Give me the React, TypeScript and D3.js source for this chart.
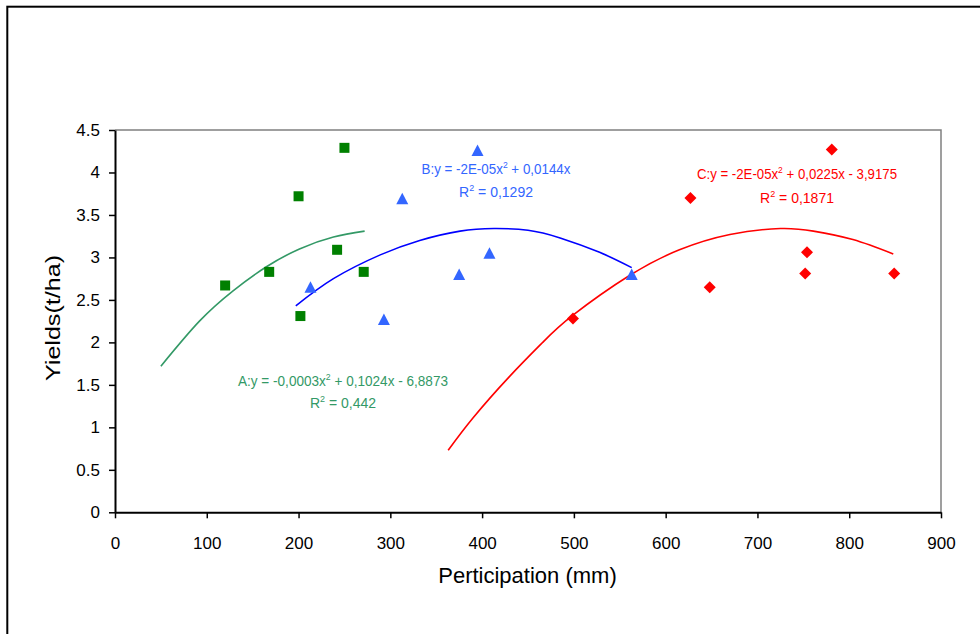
import React, { useEffect, useRef } from "react";
import * as d3 from "d3";

type Pt = [number, number];

// observations (participation mm, yield t/ha)
const seriesA: Pt[] = [[120, 2.67], [168, 2.83], [200, 3.72], [202, 2.31], [242, 3.09], [250, 4.29], [271, 2.83]];
const seriesB: Pt[] = [[213, 2.65], [293, 2.27], [313, 3.69], [395, 4.26], [375, 2.8], [408, 3.05], [563, 2.8]];
const seriesC: Pt[] = [[499, 2.28], [627, 3.7], [648, 2.65], [752, 2.81], [754, 3.06], [781, 4.27], [849, 2.81]];

// polynomial trend lines
const trendA: Pt[] = [[50, 1.72], [92, 2.25], [129, 2.61], [165, 2.89], [201, 3.1], [238, 3.24], [272, 3.31]];
const trendB: Pt[] = [[197, 2.43], [238, 2.75], [289, 3.03], [332, 3.2], [376, 3.31], [413, 3.34], [450, 3.32], [485, 3.23], [528, 3.06], [563, 2.88]];
const trendC: Pt[] = [[363, 0.73], [390, 1.11], [430, 1.6], [466, 2.0], [499, 2.32], [561, 2.79], [615, 3.09], [670, 3.27], [725, 3.34], [761, 3.31], [804, 3.21], [848, 3.04]];

const xTicks = [0, 100, 200, 300, 400, 500, 600, 700, 800, 900];
const yTicks = [0, 0.5, 1, 1.5, 2, 2.5, 3, 3.5, 4, 4.5];

const equations = [
  { name: "A", eq: ["A:y = -0,0003x", " + 0,1024x - 6,8873"], r2: "0,442", color: "#339966", at: [343, 385.5, 408], w: 210 },
  { name: "B", eq: ["B:y = -2E-05x", " + 0,0144x"], r2: "0,1292", color: "#3366ff", at: [496, 174, 196.5], w: 149 },
  { name: "C", eq: ["C:y = -2E-05x", " + 0,0225x - 3,9175"], r2: "0,1871", color: "#ff0000", at: [797, 179.3, 203.3], w: 200 },
];

const W = 980;
const H = 634;

const App = () => {
  const ref = useRef<SVGSVGElement>(null);

  useEffect(() => {
    const svg = d3.select(ref.current);
    svg.selectAll("*").remove();

    const font = "'Liberation Sans', Arial, sans-serif";
    const x = d3.scaleLinear().domain([0, 900]).range([115, 941]);
    const y = d3.scaleLinear().domain([0, 4.5]).range([512.3, 130]);

    svg.append("rect").attr("width", W).attr("height", H).attr("fill", "#fff");

    // outer frame
    svg.append("rect")
      .attr("x", 7.3).attr("y", 6.7)
      .attr("width", 1200).attr("height", 1200)
      .attr("fill", "none").attr("stroke", "#000").attr("stroke-width", 2);

    // plot area border (top/right gray)
    svg.append("path")
      .attr("d", `M${x(0)},${y(4.5)}H${x(900)}V${y(0)}`)
      .attr("fill", "none").attr("stroke", "#808080").attr("stroke-width", 1.5);

    // axes
    const gx = svg.append("g")
      .attr("transform", `translate(0,${y(0)})`)
      .call(d3.axisBottom(x).tickValues(xTicks).tickSize(6).tickSizeOuter(0).tickPadding(19).tickFormat((d) => String(d)));
    const gy = svg.append("g")
      .attr("transform", `translate(${x(0)},0)`)
      .call(d3.axisLeft(y).tickValues(yTicks).tickSize(6).tickSizeOuter(0).tickPadding(9).tickFormat((d) => String(d)));
    [gx, gy].forEach((g) => {
      g.select(".domain").attr("stroke", "#000").attr("stroke-width", 2);
      g.selectAll(".tick line").attr("stroke", "#000").attr("stroke-width", 1.5);
      g.selectAll(".tick text").attr("fill", "#000").attr("font-size", 17).attr("font-family", font);
    });

    // trend lines
    const line = d3.line<Pt>().x((d) => x(d[0])).y((d) => y(d[1])).curve(d3.curveNatural);
    [[trendA, "#339966"], [trendB, "#0000ff"], [trendC, "#ff0000"]].forEach(([data, color]) => {
      svg.append("path")
        .attr("d", line(data as Pt[]))
        .attr("fill", "none").attr("stroke", color as string).attr("stroke-width", 1.6);
    });

    // markers
    svg.append("g").selectAll("rect")
      .data(seriesA).enter().append("rect")
      .attr("x", (d) => x(d[0]) - 5).attr("y", (d) => y(d[1]) - 5)
      .attr("width", 10).attr("height", 10)
      .attr("fill", "#008000");
    svg.append("g").selectAll("path")
      .data(seriesB).enter().append("path")
      .attr("d", (d) => {
        const cx = x(d[0]), cy = y(d[1]);
        return `M${cx},${cy - 6}L${cx + 6},${cy + 5.5}L${cx - 6},${cy + 5.5}Z`;
      })
      .attr("fill", "#3366ff");
    svg.append("g").selectAll("path")
      .data(seriesC).enter().append("path")
      .attr("d", (d) => {
        const cx = x(d[0]), cy = y(d[1]);
        return `M${cx},${cy - 6}L${cx + 6},${cy}L${cx},${cy + 6}L${cx - 6},${cy}Z`;
      })
      .attr("fill", "#ff0000");

    // trend equations
    equations.forEach((e) => {
      const t = svg.append("text")
        .attr("x", e.at[0]).attr("y", e.at[1])
        .attr("text-anchor", "middle")
        .attr("font-family", font).attr("font-size", 14)
        .attr("fill", e.color)
        .attr("textLength", e.w).attr("lengthAdjust", "spacingAndGlyphs");
      t.append("tspan").text(e.eq[0]);
      t.append("tspan").attr("dy", -6).attr("font-size", 9).text("2");
      t.append("tspan").attr("dy", 6).text(e.eq[1]);

      const r = svg.append("text")
        .attr("x", e.at[0]).attr("y", e.at[2])
        .attr("text-anchor", "middle")
        .attr("font-family", font).attr("font-size", 14)
        .attr("fill", e.color);
      r.append("tspan").text("R");
      r.append("tspan").attr("dy", -6).attr("font-size", 9).text("2");
      r.append("tspan").attr("dy", 6).text(" = " + e.r2);
    });

    // axis titles
    svg.append("text")
      .attr("x", 527.5).attr("y", 583)
      .attr("text-anchor", "middle")
      .attr("font-family", font).attr("font-size", 22)
      .text("Perticipation (mm)");
    svg.append("text")
      .attr("transform", "translate(60,318) rotate(-90)")
      .attr("text-anchor", "middle")
      .attr("font-family", font).attr("font-size", 21)
      .attr("textLength", 126).attr("lengthAdjust", "spacingAndGlyphs")
      .text("Yields(t/ha)");
  }, []);

  return (
    <svg
      ref={ref}
      width={W}
      height={H}
      style={{ position: "absolute", left: 0, top: 0, display: "block" }}
    />
  );
};

export default App;
